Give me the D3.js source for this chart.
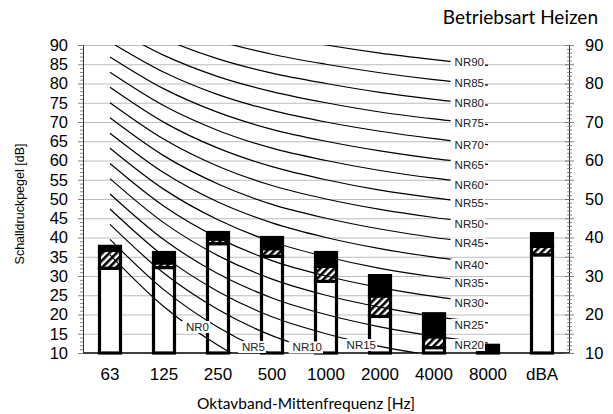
<!DOCTYPE html>
<html><head><meta charset="utf-8">
<script src="https://cdn.jsdelivr.net/npm/d3@7"></script>
<style>
body{margin:0;background:#fff;}
svg{display:block;}
</style></head>
<body>
<svg id="chart" width="613" height="414"></svg>
<script>
// ---------- data ----------
const categories = ['63','125','250','500','1000','2000','4000','8000','dBA'];
const whiteTop = [32.0, 32.2, 38.4, 35.1, 28.6, 19.5, 11.4, 10.0, 35.5];
const hatchTop = [36.7, 33.4, 39.6, 37.1, 32.5, 24.8, 14.2, 10.0, 37.7];
const totalTop = [37.7, 36.1, 41.3, 40.0, 36.1, 30.1, 20.2, 12.0, 41.0];

const nrBands = ['63','125','250','500','1000','2000','4000','8000'];
const nrLevels = [0,5,10,15,20,25,30,35,40,45,50,55,60,65,70,75,80,85,90];
const nr0  = [35.5, 22.0, 12.0, 4.8, 0, -3.5, -6.1, -8.0];
const nr5  = [39.5, 26.4, 16.7, 9.7, 5, 1.6, -1.0, -2.9];
const nr10 = [43.4, 30.7, 21.3, 14.5, 10, 6.7, 4.2, 2.3];
const nr15 = [47.4, 35.1, 26.0, 19.4, 15, 11.7, 9.3, 7.5];
const nr20 = [51.3, 39.4, 30.6, 24.3, 20, 16.8, 14.4, 12.6];
const nr25 = [55.3, 43.8, 35.3, 29.2, 25, 21.9, 19.5, 17.8];
const nr30 = [59.2, 48.1, 39.9, 34.0, 30, 27.0, 24.7, 22.9];
const nr35 = [63.2, 52.5, 44.6, 38.9, 35, 32.0, 29.8, 28.1];
const nr40 = [67.1, 56.8, 49.2, 43.8, 40, 37.1, 34.9, 33.2];
const nr45 = [71.1, 61.2, 53.9, 48.6, 45, 42.2, 40.0, 38.4];
const nr50 = [75.0, 65.5, 58.5, 53.5, 50, 47.3, 45.2, 43.5];
const nr55 = [79.0, 69.9, 63.2, 58.4, 55, 52.3, 50.3, 48.7];
const nr60 = [82.9, 74.2, 67.8, 63.2, 60, 57.4, 55.4, 53.8];
const nr65 = [86.9, 78.6, 72.5, 68.1, 65, 62.5, 60.5, 59.0];
const nr70 = [90.8, 82.9, 77.1, 73.0, 70, 67.6, 65.7, 64.1];
const nr75 = [94.8, 87.3, 81.8, 77.9, 75, 72.6, 70.8, 69.3];
const nr80 = [98.7, 91.6, 86.4, 82.7, 80, 77.7, 75.9, 74.4];
const nr85 = [102.7, 96.0, 91.1, 87.6, 85, 82.8, 81.0, 79.6];
const nr90 = [106.6, 100.3, 95.7, 92.5, 90, 87.9, 86.2, 84.7];
const nrCurves = [nr0,nr5,nr10,nr15,nr20,nr25,nr30,nr35,nr40,nr45,nr50,nr55,nr60,nr65,nr70,nr75,nr80,nr85,nr90];
// band each curve label is attached to, and the level (dB) of the label's centre
const nrLabelBand  = ['250','500','1000','2000','8000','8000','8000','8000','8000','8000','8000','8000','8000','8000','8000','8000','8000','8000','8000'];
const nrLabelLevel = [16.8, 11.6, 11.5, 12.1, 12.1, 17.3, 22.9, 28.1, 32.9, 38.5, 43.5, 48.9, 53.8, 58.8, 64.0, 69.9, 75.0, 80.1, 85.5];

const yLeftTicks = [10,15,20,25,30,35,40,45,50,55,60,65,70,75,80,85,90];
const yRightTicks = [10,20,30,40,50,60,70,80,90];

const titleText = 'Betriebsart Heizen';
const yTitle = 'Schalldruckpegel [dB]';
const xTitle = 'Oktavband-Mittenfrequenz [Hz]';

// ---------- layout ----------
const L = 83, R = 569, T = 45, B = 353;
const svg = d3.select('#chart');
const x = d3.scaleBand().domain(categories).range([L, R]);
const y = d3.scaleLinear().domain([10, 90]).range([B, T]);
const xc = c => x(c) + x.bandwidth() / 2;

const defs = svg.append('defs');
const pat = defs.append('pattern').attr('id','hatch').attr('patternUnits','userSpaceOnUse')
  .attr('width',5).attr('height',5).attr('patternTransform','rotate(45)');
pat.append('rect').attr('width',5).attr('height',5).attr('fill','#fff');
pat.append('rect').attr('width',2.6).attr('height',5).attr('fill','#000');
defs.append('clipPath').attr('id','plotClip').append('rect')
  .attr('x',L).attr('y',T).attr('width',R-L).attr('height',B-T);

// gridlines
svg.append('g').selectAll('line').data(yLeftTicks.filter(v => v > 10)).join('line')
  .attr('x1',L).attr('x2',R).attr('y1',d=>y(d)+0.5).attr('y2',d=>y(d)+0.5)
  .attr('stroke','#bdbdbd').attr('stroke-width',1);

// bars
const barW = 21;
const bars = svg.append('g');
categories.forEach((c,i) => {
  const segs = [
    {lo:10, hi:whiteTop[i], fill:'#fff'},
    {lo:whiteTop[i], hi:hatchTop[i], fill:'url(#hatch)'},
    {lo:hatchTop[i], hi:totalTop[i], fill:'#000'}
  ].filter(s => s.hi > s.lo);
  bars.selectAll(null).data(segs).join('rect')
    .attr('x', xc(c) - barW/2).attr('width', barW)
    .attr('y', s => y(s.hi)).attr('height', s => y(s.lo) - y(s.hi))
    .attr('fill', s => s.fill).attr('stroke','#000').attr('stroke-width',3.2);
});

// NR curves
const line = d3.line().x((d,i) => xc(nrBands[i])).y(d => y(d)).curve(d3.curveCardinal.tension(0));
svg.append('g').attr('clip-path','url(#plotClip)').selectAll('path').data(nrCurves).join('path')
  .attr('d', line).attr('fill','none').attr('stroke','#000').attr('stroke-width',1.2);

// axes
svg.append('line').attr('x1',L).attr('x2',R).attr('y1',B).attr('y2',B).attr('stroke','#000').attr('stroke-width',1.5);
svg.append('line').attr('x1',L+0.5).attr('x2',L+0.5).attr('y1',T).attr('y2',B).attr('stroke','#333').attr('stroke-width',1);
svg.append('line').attr('x1',R+0.5).attr('x2',R+0.5).attr('y1',T).attr('y2',B).attr('stroke','#333').attr('stroke-width',1);

const minor = d3.range(10, 91, 1);
svg.append('g').selectAll('line').data(minor).join('line')
  .attr('x1', d => d % 5 === 0 ? L-5 : L-3).attr('x2', L)
  .attr('y1', d => y(d)+0.5).attr('y2', d => y(d)+0.5).attr('stroke','#666').attr('stroke-width',0.8);
svg.append('g').selectAll('line').data(minor).join('line')
  .attr('x1', d => d % 5 === 0 ? R-4 : R-2).attr('x2', d => d % 5 === 0 ? R+5 : R+3)
  .attr('y1', d => y(d)+0.5).attr('y2', d => y(d)+0.5).attr('stroke','#666').attr('stroke-width',0.8);

const left = svg.append('g').attr('transform',`translate(${L},0)`)
  .call(d3.axisLeft(y).tickValues(yLeftTicks).tickSize(0).tickPadding(15));
left.select('.domain').remove();
left.selectAll('text').attr('font-family','Liberation Sans, Arial, sans-serif').attr('font-size',16.5).attr('fill','#000');

const right = svg.append('g').attr('transform',`translate(${R},0)`)
  .call(d3.axisRight(y).tickValues(yRightTicks).tickSize(0).tickPadding(16));
right.select('.domain').remove();
right.selectAll('text').attr('font-family','Liberation Sans, Arial, sans-serif').attr('font-size',16.5).attr('fill','#000');

const bottom = svg.append('g').attr('transform',`translate(0,${B})`)
  .call(d3.axisBottom(x).tickSize(0).tickPadding(15));
bottom.select('.domain').remove();
bottom.selectAll('text').attr('font-family','Liberation Sans, Arial, sans-serif').attr('font-size',17).attr('fill','#000');

// NR labels
const lab = svg.append('g');
nrLevels.forEach((lv,i) => {
  const g = lab.append('g');
  const off = lv === 0 ? 9 : (lv === 5 ? 7 : 4);
  const t = g.append('text').text('NR' + lv)
    .attr('x', xc(nrLabelBand[i]) - off).attr('y', y(nrLabelLevel[i]))
    .attr('text-anchor','end').attr('dy','0.36em')
    .attr('font-family','Liberation Sans, Arial, sans-serif').attr('font-size',11.5).attr('fill','#222');
  const bb = t.node().getBBox();
  g.insert('rect','text').attr('x', bb.x - 4).attr('y', bb.y).attr('width', bb.width + 5).attr('height', bb.height)
    .attr('fill','#fff');
});

// titles
svg.append('text').attr('x',598).attr('y',24).attr('text-anchor','end')
  .attr('font-family','Lato, Carlito, sans-serif').attr('font-size',19).attr('fill','#000').text(titleText);
svg.append('text').attr('transform',`translate(24,${(T+B)/2+5}) rotate(-90)`).attr('text-anchor','middle')
  .attr('font-family','Liberation Sans, Arial, sans-serif').attr('font-size',12.5).attr('fill','#000').text(yTitle);
svg.append('text').attr('x',306).attr('y',409).attr('text-anchor','middle')
  .attr('font-family','Lato, Carlito, sans-serif').attr('font-size',15.5).attr('fill','#000').text(xTitle);
</script>
</body></html>
